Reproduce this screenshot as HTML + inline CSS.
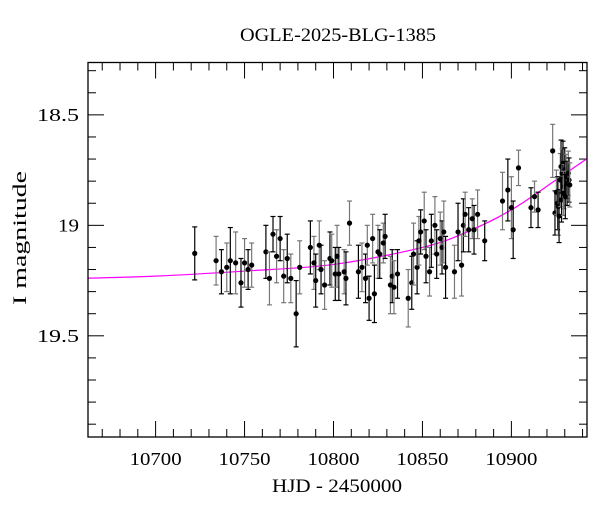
<!DOCTYPE html>
<html><head><meta charset="utf-8"><style>
html,body{margin:0;padding:0;background:#fff;}
svg{display:block;font-family:"Liberation Serif",serif;}
</style></head><body>
<svg id="chart" width="600" height="512" viewBox="0 0 600 512" xmlns="http://www.w3.org/2000/svg">
<text x="338" y="41" text-anchor="middle" font-size="19" textLength="196" lengthAdjust="spacingAndGlyphs">OGLE-2025-BLG-1385</text>
<text x="337" y="492" text-anchor="middle" font-size="19" textLength="130" lengthAdjust="spacingAndGlyphs">HJD - 2450000</text>
<text transform="translate(26,238) rotate(-90)" text-anchor="middle" font-size="19" textLength="134" lengthAdjust="spacingAndGlyphs">I magnitude</text>
<g id="ticks"></g>
<g id="model"></g>
<g id="points"></g>
<rect x="88" y="62.5" width="499" height="374.5" fill="none" stroke="#000" stroke-width="1.3"/>
</svg>
<script>
const hjd=[10722,10734,10737,10740,10742,10745,10748,10750,10752,10754,10762,10764,10766,10768,10770,10772,10774,10776,10779,10781,10787,10789,10790,10792,10793,10795,10798,10799,10801,10802,10803,10806,10807,10809,10814,10816,10818,10819,10820,10822,10823,10825,10826,10828,10829,10832,10833,10834,10836,10842,10844,10845,10847,10848,10849,10851,10852,10854,10855,10857,10858,10860,10861,10862,10863,10868,10870,10872,10873,10874,10876,10878,10879,10881,10885,10895,10898,10900,10901,10904,10911,10913,10915,10923.2,10924.5,10925.3,10926,10926.4,10926.8,10927.5,10927.9,10928.5,10929,10929.6,10930,10930.7,10931.3,10932,10932.4,10932.8,10928.2,10929.2,10930.3];
const mag=[19.127,19.16,19.21,19.19,19.16,19.17,19.26,19.17,19.20,19.18,19.12,19.24,19.04,19.14,19.06,19.23,19.15,19.24,19.40,19.19,19.10,19.17,19.25,19.09,19.20,19.27,19.15,19.16,19.22,19.14,19.22,19.21,19.24,18.99,19.21,19.19,19.24,19.09,19.33,19.06,19.31,19.12,19.13,19.08,19.05,19.27,19.23,19.28,19.22,19.33,19.26,19.13,19.19,19.07,19.03,18.98,19.14,19.21,19.07,19.00,19.13,19.06,19.10,19.03,19.19,19.21,19.03,19.18,19.00,18.95,19.02,18.97,19.02,18.95,19.07,18.89,18.84,18.92,19.02,18.74,18.92,18.87,18.93,18.663,18.944,18.85,18.90,18.915,18.958,18.795,18.734,18.764,18.719,18.825,18.749,18.779,18.81,18.764,18.795,18.817,18.885,18.855,18.87];
const err=[0.12,0.11,0.1,0.11,0.15,0.14,0.11,0.11,0.09,0.1,0.12,0.12,0.08,0.12,0.1,0.12,0.11,0.11,0.15,0.12,0.12,0.12,0.12,0.11,0.11,0.11,0.12,0.12,0.12,0.14,0.12,0.1,0.12,0.1,0.12,0.11,0.11,0.09,0.1,0.11,0.13,0.12,0.11,0.09,0.1,0.13,0.12,0.12,0.11,0.13,0.12,0.14,0.12,0.11,0.1,0.13,0.12,0.11,0.12,0.13,0.11,0.12,0.12,0.14,0.14,0.12,0.13,0.14,0.12,0.1,0.1,0.09,0.11,0.11,0.09,0.13,0.14,0.14,0.13,0.08,0.09,0.07,0.08,0.12,0.1,0.1,0.12,0.13,0.12,0.12,0.12,0.11,0.1,0.1,0.1,0.1,0.1,0.1,0.1,0.1,0.1,0.1,0.1];
const modelDays=[10662,10700,10750,10800,10850,10875,10900,10925,10942.5];
const modelMag=[19.239,19.23,19.207,19.177,19.10,19.03,18.93,18.795,18.698];
const xTickLabels=[10700,10750,10800,10850,10900];
const yTickLabels=[18.5,19,19.5];
const X0=88,X1=587,Y0=62.5,Y1=437,D0=10662,D1=10942.5,M0=18.263,M1=19.958;
const sx=d=>X0+(d-D0)/(D1-D0)*(X1-X0);
const sy=m=>Y0+(m-M0)/(M1-M0)*(Y1-Y0);
const NS="http://www.w3.org/2000/svg";
function mk(t,a,p){const e=document.createElementNS(NS,t);for(const k in a)e.setAttribute(k,a[k]);p.appendChild(e);return e;}
const tk=document.getElementById('ticks');
for(let d=10670;d<=10940;d+=10){const x=sx(d),big=d%50===0,l=big?16:8;
 const a=mk('line',{x1:x,x2:x,y1:Y1,y2:Y1-l,stroke:'#000','stroke-width':1},tk);
 
 const b=mk('line',{x1:x,x2:x,y1:Y0,y2:Y0+l,stroke:'#000','stroke-width':1},tk);
 }
for(let i=3;i<=19;i++){const m=18+i*0.1,y=sy(m),big=i%5===0,l=big?16:8;
 const a=mk('line',{x1:X0,x2:X0+l,y1:y,y2:y,stroke:'#000','stroke-width':1},tk);
 
 const b=mk('line',{x1:X1,x2:X1-l,y1:y,y2:y,stroke:'#000','stroke-width':1},tk);
 }
xTickLabels.forEach(v=>{const t=mk('text',{x:sx(v),y:465,'text-anchor':'middle','font-size':18,textLength:52,lengthAdjust:'spacingAndGlyphs'},tk);t.textContent=v;
 });
yTickLabels.forEach(v=>{const s=String(v);const t=mk('text',{x:79,y:sy(v)+6,'text-anchor':'end','font-size':18,textLength:s.length*10.5,lengthAdjust:'spacingAndGlyphs'},tk);t.textContent=s;
 });
const pts=modelDays.map((d,i)=>[sx(d),sy(modelMag[i])]);
let dstr='M'+pts[0][0]+','+pts[0][1];
for(let i=0;i<pts.length-1;i++){const p0=pts[Math.max(0,i-1)],p1=pts[i],p2=pts[i+1],p3=pts[Math.min(pts.length-1,i+2)];
 const c1=[p1[0]+(p2[0]-p0[0])/6,p1[1]+(p2[1]-p0[1])/6],c2=[p2[0]-(p3[0]-p1[0])/6,p2[1]-(p3[1]-p1[1])/6];
 dstr+=` C${c1[0]},${c1[1]} ${c2[0]},${c2[1]} ${p2[0]},${p2[1]}`;}
const mp=document.getElementById('model');
const ml=mk('path',{d:dstr,fill:'none',stroke:'#ff00ff','stroke-width':1.2},mp);

const pg=document.getElementById('points');
hjd.forEach((d,i)=>{const x=sx(d),y=sy(mag[i]),yt=sy(mag[i]-err[i]),yb=sy(mag[i]+err[i]);
 const col=i%2?'#777':'#000';
 const g=mk('g',{},pg);
 
 mk('line',{x1:x,x2:x,y1:yt,y2:yb,stroke:col,'stroke-width':1.2},g);
 mk('line',{x1:x-2.5,x2:x+2.5,y1:yt,y2:yt,stroke:col,'stroke-width':1.2},g);
 mk('line',{x1:x-2.5,x2:x+2.5,y1:yb,y2:yb,stroke:col,'stroke-width':1.2},g);
 mk('circle',{cx:x,cy:y,r:2.6,fill:'#000'},g);});
</script>
</body></html>
